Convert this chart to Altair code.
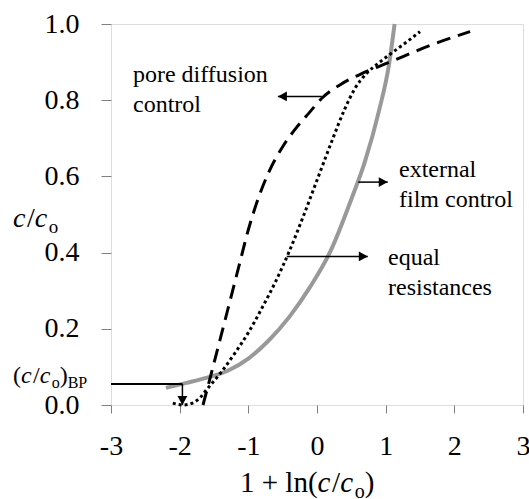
import altair as alt
import pandas as pd

# ---------------- data ----------------
film_x = [-2.2, -1.9, -1.6, -1.3, -1.0, -0.7, -0.4, -0.1, 0.2, 0.5, 0.7, 0.9, 1.05, 1.13]
film_y = [0.045, 0.058, 0.072, 0.09, 0.122, 0.17, 0.232, 0.31, 0.405, 0.54, 0.64, 0.77, 0.895, 1.0]

pore_x = [-1.66, -1.5, -1.3, -1.15, -1.0, -0.85, -0.7, -0.5, -0.3, -0.1, 0.07, 0.35, 0.63, 1.06, 1.65, 2.23]
pore_y = [0.0, 0.11, 0.25, 0.355, 0.46, 0.545, 0.612, 0.678, 0.728, 0.77, 0.805, 0.842, 0.868, 0.9, 0.944, 0.98]

equal_x = [-2.1, -1.95, -1.8, -1.7, -1.6, -1.4, -1.2, -1.0, -0.8, -0.6, -0.4, -0.2, 0.0, 0.2, 0.4, 0.55, 0.72, 0.9, 1.06, 1.3, 1.5]
equal_y = [0.005, 0.0, 0.006, 0.02, 0.042, 0.085, 0.135, 0.19, 0.255, 0.325, 0.405, 0.495, 0.59, 0.685, 0.775, 0.83, 0.87, 0.898, 0.92, 0.952, 0.98]

x_ticks = [-3, -2, -1, 0, 1, 2, 3]
y_ticks = [0.0, 0.2, 0.4, 0.6, 0.8, 1.0]

ann_text = ["pore diffusion\ncontrol", "external\nfilm control", "equal\nresistances"]
ann_x = [-2.68, 1.194, 1.034]
ann_y = [0.848, 0.598, 0.367]

arrow_x1 = [0.07, 0.60, -0.44, -1.96]
arrow_x2 = [-0.57, 1.03, 0.74, -1.96]
arrow_y1 = [0.81, 0.585, 0.39, 0.055]
arrow_y2 = [0.81, 0.585, 0.39, 0.0]
arrow_dir = ["left", "right", "right", "down"]

bp_x = [-3.0, -1.96]
bp_y = [0.055, 0.055]

# ---------------- helpers ----------------
FONT = "Liberation Serif"
W_REG = {'1': 500, ' ': 250, '+': 564, 'l': 278, 'n': 500, '(': 333, ')': 333,
         '/': 278, 'o': 500, 'B': 667, 'P': 556}
W_IT = {'c': 500}

xs = alt.Scale(domain=[-3, 3], nice=False, zero=False)
ys = alt.Scale(domain=[0, 1], nice=False, zero=False)

x_axis = alt.Axis(values=x_ticks, labelExpr="'' + datum.value", title=None, grid=False,
                  domain=False, tickSize=8, tickColor="#808080", labelFont=FONT,
                  labelFontSize=28, labelColor="black", labelPadding=19,
                  labelFlush=False, labelOverlap=False)
y_axis = alt.Axis(values=y_ticks, format=".1f", title=None, grid=False, domain=False,
                  tickSize=10, tickColor="#808080", labelFont=FONT, labelFontSize=28,
                  labelColor="black", labelPadding=22, labelFlush=False, labelOverlap=False)


def curve(xv, yv, **kw):
    df = pd.DataFrame({"x": xv, "y": yv, "o": list(range(len(xv)))})
    return alt.Chart(df).mark_line(interpolate="monotone", **kw).encode(
        x=alt.X("x:Q", scale=xs, axis=x_axis),
        y=alt.Y("y:Q", scale=ys, axis=y_axis),
        order="o:Q",
    )


def compose(pieces, x0, y0):
    """pieces: (text, size, italic, baseline_shift)"""
    layers = []
    x = x0
    one = pd.DataFrame({"d": [0]})
    for txt, size, italic, shift in pieces:
        layers.append(
            alt.Chart(one).mark_text(
                align="left", baseline="alphabetic", font=FONT, fontSize=size,
                fontStyle="italic" if italic else "normal", color="black"
            ).encode(x=alt.value(x), y=alt.value(y0 + shift), text=alt.value(txt))
        )
        table = W_IT if italic else W_REG
        x += sum(table.get(ch, 500) for ch in txt) * size / 1000.0
    return layers


# ---------------- marks ----------------
film = curve(film_x, film_y, color="#999999", strokeWidth=4)
equal = curve(equal_x, equal_y, color="black", strokeWidth=3, strokeDash=[3, 3], strokeCap="butt")
pore = curve(pore_x, pore_y, color="black", strokeWidth=3, strokeDash=[14, 8], strokeCap="butt")

bp_df = pd.DataFrame({"x": bp_x, "y": bp_y, "o": [0, 1]})
bp_line = alt.Chart(bp_df).mark_line(color="black", strokeWidth=2).encode(
    x=alt.X("x:Q", scale=xs), y=alt.Y("y:Q", scale=ys), order="o:Q")

arr_df = pd.DataFrame({"x1": arrow_x1, "x2": arrow_x2, "y1": arrow_y1, "y2": arrow_y2,
                       "dir": arrow_dir})
paths = {"right": "M0,0L-1,-0.55L-1,0.55Z", "left": "M0,0L1,-0.55L1,0.55Z",
         "down": "M0,0L-0.55,-1L0.55,-1Z"}
arr_df["shape"] = arr_df["dir"].map(paths)

arrow_lines = alt.Chart(arr_df).mark_rule(color="black", strokeWidth=1.5).encode(
    x=alt.X("x1:Q", scale=xs), x2="x2:Q", y=alt.Y("y1:Q", scale=ys), y2="y2:Q")
arrow_heads = alt.Chart(arr_df).mark_point(filled=True, color="black", opacity=1,
                                           size=324, strokeWidth=0).encode(
    x=alt.X("x2:Q", scale=xs), y=alt.Y("y2:Q", scale=ys),
    shape=alt.Shape("shape:N", scale=None))

ann_df = pd.DataFrame({"x": ann_x, "y": ann_y, "t": ann_text})
ann = alt.Chart(ann_df).mark_text(align="left", baseline="alphabetic", font=FONT,
                                  fontSize=24, lineBreak="\n", lineHeight=30,
                                  color="black").encode(
    x=alt.X("x:Q", scale=xs), y=alt.Y("y:Q", scale=ys), text="t:N")

# composed titles (pixel positions relative to plot area)
xtitle = compose([("1 + ln(", 29, False, 0), ("c", 29, True, 0), ("/", 29, False, 0),
                  ("c", 29, True, 0), ("o", 20, False, 6), (")", 29, False, 0)], 129, 468)
ytitle = compose([("c", 28, True, 0), ("/", 28, False, 0), ("c", 28, True, 0),
                  ("o", 19, False, 6)], -98, 203)
bptitle = compose([("(", 24, False, 0), ("c", 24, True, 0), ("/", 24, False, 0),
                   ("c", 24, True, 0), ("o", 16, False, 5), (")", 24, False, 0),
                   ("BP", 16, False, 5)], -98, 359)

chart = alt.layer(film, equal, pore, bp_line, arrow_lines, arrow_heads, ann,
                  *xtitle, *ytitle, *bptitle).properties(
    width=412, height=381, autosize="none",
    padding={"left": 111, "top": 24, "right": 6, "bottom": 94},
).configure_view(stroke="black", strokeWidth=2).configure(background="white")

chart.save("out.html", embed_options={"renderer": "svg", "actions": False})
